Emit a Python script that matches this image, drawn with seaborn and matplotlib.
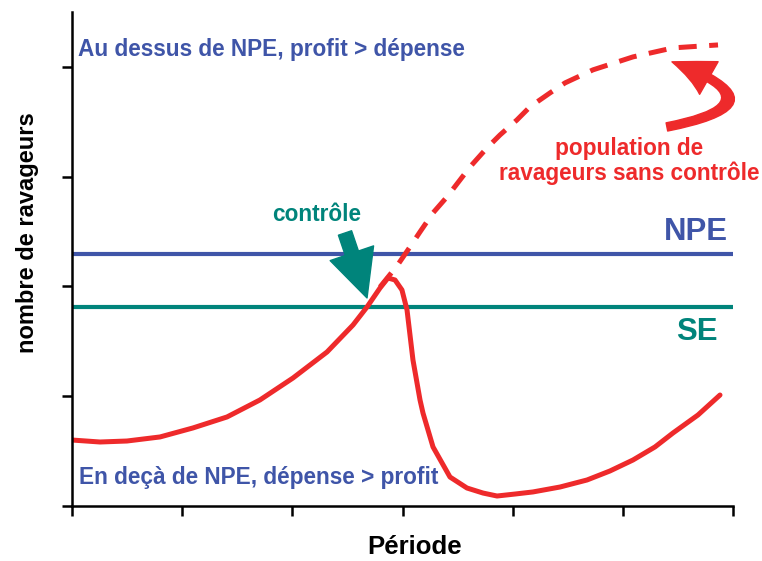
import matplotlib
matplotlib.use("Agg")
import matplotlib.pyplot as plt
import seaborn as sns
import pandas as pd

# population with control (solid red)
ctrl_x = [0.00, 0.254, 0.499, 0.799, 1.098, 1.407, 1.706, 2.006, 2.315, 2.551, 2.678,
          2.796, 2.868, 2.932, 2.995, 3.041, 3.095, 3.159, 3.186, 3.277, 3.431, 3.585,
          3.731, 3.858, 4.021, 4.184, 4.430, 4.675, 4.883, 5.092, 5.292, 5.455, 5.682, 5.882]
ctrl_y = [0.601, 0.583, 0.592, 0.629, 0.711, 0.811, 0.966, 1.166, 1.403, 1.649, 1.813,
          1.986, 2.077, 2.059, 1.968, 1.786, 1.330, 0.966, 0.847, 0.538, 0.264, 0.164,
          0.118, 0.091, 0.109, 0.128, 0.173, 0.237, 0.319, 0.419, 0.538, 0.665, 0.829, 1.011]

# population without control (dashed red)
free_x = [2.796, 2.95, 3.068, 3.159, 3.277, 3.404, 3.522, 3.613, 3.767, 3.885, 4.039,
          4.157, 4.339, 4.475, 4.729, 5.092, 5.455, 5.864]
free_y = [1.995, 2.187, 2.36, 2.497, 2.67, 2.816, 2.97, 3.089, 3.262, 3.38, 3.517,
          3.636, 3.763, 3.854, 3.973, 4.091, 4.173, 4.2]

npe_level = 2.30
se_level = 1.81
x_ticks = [0, 1, 2, 3, 4, 5, 6]
y_ticks = [0, 1, 2, 3, 4]

red = "#EE2A2B"
blue = "#3F55A8"
teal = "#00847B"

sns.set_theme(style="white")
plt.rcParams["font.family"] = ["Liberation Sans", "DejaVu Sans"]
plt.rcParams["lines.scale_dashes"] = False

fig = plt.figure(figsize=(7.62, 5.61), dpi=100)
ax = fig.add_axes([72 / 762, 1 - 506 / 561, (733 - 72) / 762, (506 - 12) / 561])

ctrl = pd.DataFrame({"x": ctrl_x, "y": ctrl_y})
free = pd.DataFrame({"x": free_x, "y": free_y})

sns.lineplot(data=free, x="x", y="y", ax=ax, color=red, lw=3.6, sort=False,
             estimator=None)
ax.lines[-1].set_dashes((13, 9))
ax.lines[-1].set_dash_capstyle("butt")
sns.lineplot(data=ctrl, x="x", y="y", ax=ax, color=red, lw=3.6, sort=False,
             estimator=None)
ax.lines[-1].set_solid_joinstyle("round")

ax.axhline(npe_level, color=blue, lw=3, zorder=1)
ax.axhline(se_level, color=teal, lw=3, zorder=1)

ax.set_xlim(0, 6)
ax.set_ylim(0, 4.5)
ax.set_xticks(x_ticks)
ax.set_yticks(y_ticks)
ax.set_xticklabels([])
ax.set_yticklabels([])
ax.tick_params(axis="both", direction="out", length=7, width=1.8, color="black",
               left=True, bottom=True)
for side in ["top", "right"]:
    ax.spines[side].set_visible(False)
for side in ["left", "bottom"]:
    ax.spines[side].set_color("black")
    ax.spines[side].set_linewidth(1.8)

ax.set_xlabel("Période", fontsize=18.5, fontweight="bold", color="black")
ax.xaxis.label.set_va("baseline")
ax.xaxis.set_label_coords(0.519, -0.098)
ax.set_ylabel("nombre de ravageurs", fontsize=17, fontweight="bold", color="black")
ax.yaxis.label.set_va("center")
ax.yaxis.set_label_coords(-0.067, 0.553)

ax.text(0.054, 4.155, "Au dessus de NPE, profit > dépense", color=blue, fontsize=16.3,
        fontweight="bold", ha="left", va="center")
ax.text(0.063, 0.264, "En deçà de NPE, dépense > profit", color=blue, fontsize=16.3,
        fontweight="bold", ha="left", va="center")
ax.text(5.955, 2.497, "NPE", color=blue, fontsize=22.4, fontweight="bold", ha="right", va="center")
ax.text(5.673, 1.585, "SE", color=teal, fontsize=22.4, fontweight="bold", ha="center", va="center")
ax.text(2.224, 2.651, "contrôle", color=teal, fontsize=16.3, fontweight="bold", ha="center", va="center")
ax.text(5.06, 3.144, "population de\nravageurs sans contrôle", color=red, fontsize=16.3,
        fontweight="bold", ha="center", va="center", linespacing=1.1)

# arrow pointing at the control moment
ax.annotate("", xy=(2.678, 1.895), xytext=(2.478, 2.487),
            arrowprops=dict(arrowstyle="simple,head_length=1.7,head_width=1.65,tail_width=0.5",
                            color=teal, shrinkA=0, shrinkB=0, mutation_scale=20))
# curved arrow pointing at the uncontrolled curve
ax.annotate("", xy=(5.446, 4.046), xytext=(5.40, 3.453),
            arrowprops=dict(arrowstyle="simple,head_length=1.45,head_width=1.35,tail_width=0.3",
                            color=red, shrinkA=0, shrinkB=0, mutation_scale=20,
                            connectionstyle="arc3,rad=1.8"))

fig.savefig("out.png", dpi=100)
